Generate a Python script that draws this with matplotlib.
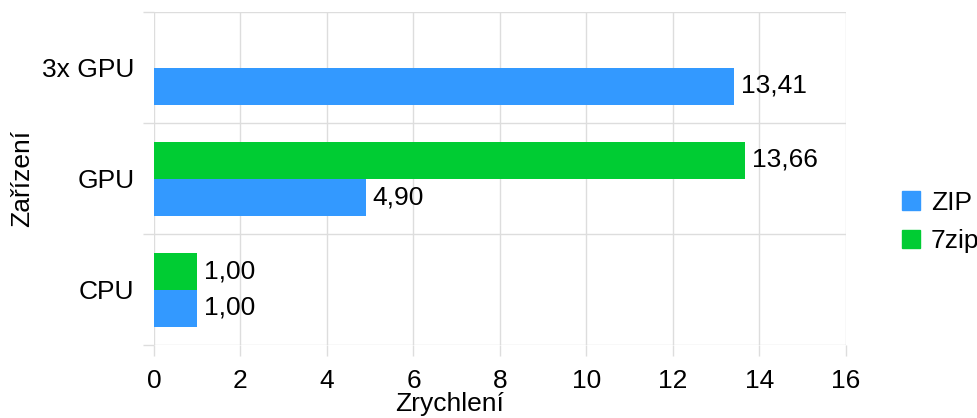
import matplotlib
matplotlib.use("Agg")
import matplotlib.pyplot as plt
import numpy as np
from matplotlib.patches import Patch

categories = ["CPU", "GPU", "3x GPU"]
zip_vals = [1.00, 4.90, 13.41]
sevenzip_vals = [1.00, 13.66, np.nan]
series_names = ["ZIP", "7zip"]
xticks = [0, 2, 4, 6, 8, 10, 12, 14, 16]

blue = "#3399ff"
green = "#00cc33"
grid_c = "#dddddd"
fs = 19

plt.rcParams['font.family'] = ['Liberation Sans', 'DejaVu Sans']

fig = plt.figure(figsize=(9.78, 4.18), dpi=100)
W, H = 978, 418
ax = fig.add_axes([154 / W, 1 - 345 / H, (846 - 154) / W, (345 - 12) / H])

y = np.arange(len(categories))
h = 1 / 3
ax.barh(y - h / 2, zip_vals, height=h, color=blue, zorder=3)
ax.barh(y + h / 2, sevenzip_vals, height=h, color=green, zorder=3)

def fmt(v):
    return f"{v:.2f}".replace(".", ",")

for yi, v in zip(y - h / 2, zip_vals):
    if not np.isnan(v):
        ax.text(v + 0.16, yi, fmt(v), va="center", ha="left", fontsize=fs, color="black")
for yi, v in zip(y + h / 2, sevenzip_vals):
    if not np.isnan(v):
        ax.text(v + 0.16, yi, fmt(v), va="center", ha="left", fontsize=fs, color="black")

ax.set_xlim(0, 16)
ax.set_ylim(-0.5, 2.5)
ax.set_xticks(xticks)
ax.set_xticklabels([str(t) for t in xticks], fontsize=fs)
ax.set_yticks(y)
ax.set_yticklabels(categories, fontsize=fs)
ax.set_yticks([-0.5, 0.5, 1.5, 2.5], minor=True)

ax.tick_params(axis="y", which="major", length=0, pad=14)
ax.tick_params(axis="y", which="minor", length=8, color=grid_c, width=1)
ax.tick_params(axis="x", which="major", length=8, color=grid_c, width=1, pad=9)

ax.grid(axis="x", which="major", color=grid_c, linewidth=1, zorder=0)
ax.grid(axis="y", which="minor", color=grid_c, linewidth=1, zorder=0)
for s in ax.spines.values():
    s.set_visible(False)

fig.text(450 / W, 2 / H, "Zrychlení", ha="center", va="bottom", fontsize=fs)
fig.text(22 / W, 1 - 178 / H, "Zařízení", ha="center", va="center", rotation=90, fontsize=fs)

handles = [Patch(color=blue), Patch(color=green)]
fig.legend(handles, series_names, loc="center left", bbox_to_anchor=(902 / W, 1 - 222 / H),
           frameon=False, fontsize=fs, handlelength=0.7, handleheight=0.7,
           handletextpad=0.4, labelspacing=0.55, borderaxespad=0, borderpad=0)

fig.savefig("out.png", dpi=100)
